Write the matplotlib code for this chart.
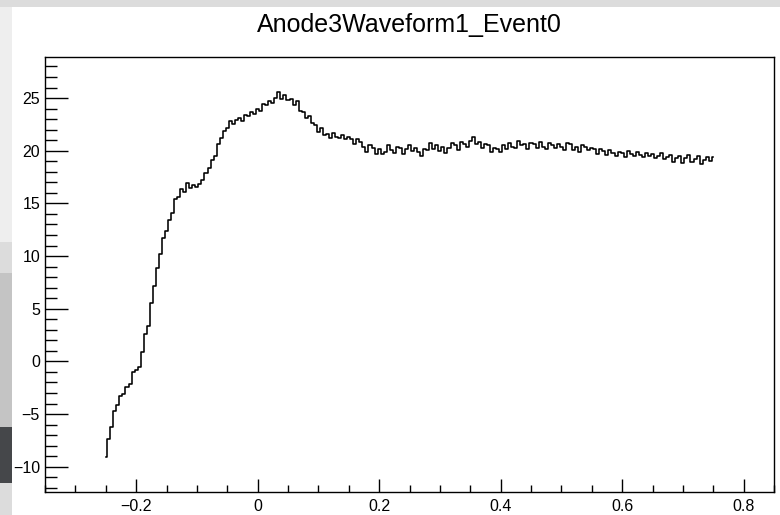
import matplotlib.pyplot as plt
import numpy as np
from matplotlib.patches import Rectangle
from matplotlib.ticker import MultipleLocator

# waveform samples, one every 0.005, from t = -0.25 to 0.75
t_start, t_step = -0.25, 0.005
amplitude = [
    -9.1, -7.4, -6.2, -4.7, -4.1, -3.3, -3.1, -2.4, -2.1, -1.0,
    -0.8, -0.5, 0.9, 2.6, 3.4, 5.5, 7.2, 8.9, 10.2, 11.7,
    12.4, 13.4, 14.1, 15.4, 15.6, 16.4, 16.1, 16.9, 16.5, 16.7,
    16.6, 16.8, 17.2, 17.9, 18.4, 19.1, 19.5, 20.6, 21.2, 21.9,
    22.2, 22.8, 22.5, 22.9, 23.1, 22.8, 23.4, 23.3, 23.7, 23.5,
    24.0, 23.8, 24.4, 24.3, 24.7, 24.5, 25.0, 25.6, 24.9, 25.3,
    24.8, 24.9, 24.3, 24.7, 23.8, 23.7, 23.1, 23.3, 22.6, 22.4,
    21.8, 22.2, 21.5, 21.6, 21.2, 21.7, 21.3, 21.2, 21.5, 21.1,
    21.3, 21.1, 20.6, 21.1, 20.8, 20.4, 19.9, 20.5, 20.3, 19.7,
    20.2, 19.7, 19.9, 20.5, 20.1, 19.8, 20.4, 20.3, 19.7, 20.2,
    20.5, 20.0, 20.3, 19.9, 19.5, 20.2, 20.1, 20.7, 20.2, 20.5,
    20.0, 20.4, 19.8, 20.3, 20.7, 20.5, 20.1, 20.8, 20.6, 20.4,
    20.9, 21.3, 20.6, 20.8, 20.3, 20.6, 20.5, 19.9, 20.3, 20.2,
    19.9, 20.5, 20.2, 20.7, 20.4, 20.3, 20.9, 20.5, 20.6, 20.2,
    20.7, 20.6, 20.3, 20.8, 20.4, 20.2, 20.7, 20.5, 20.3, 20.6,
    20.4, 20.1, 20.7, 20.6, 20.1, 20.4, 19.9, 20.5, 20.4, 20.1,
    20.3, 20.2, 19.7, 20.2, 20.0, 19.6, 20.1, 19.8, 19.5, 19.9,
    19.8, 19.4, 20.0, 19.7, 19.5, 19.9, 19.6, 19.4, 19.8, 19.5,
    19.7, 19.3, 19.5, 19.8, 19.2, 19.4, 19.6, 18.9, 19.3, 19.5,
    18.8, 19.3, 19.6, 18.9, 19.2, 19.5, 18.7, 19.1, 19.4, 19.0,
    19.4,
]
title = 'Anode3Waveform1_Event0'

t = t_start + t_step * np.arange(len(amplitude))

plt.rcParams['font.family'] = ['Liberation Sans', 'DejaVu Sans']

fig = plt.figure(figsize=(7.8, 5.15), dpi=100, facecolor='#dcdcdc')

# window behind the canvas
fig.patches.append(Rectangle((0, 0.53), 12 / 780, 0.47 - 7 / 515, transform=fig.transFigure,
                             facecolor='#eeeeee', edgecolor='none', zorder=0))
fig.patches.append(Rectangle((0, 1 - 427 / 515), 12 / 780, (427 - 273) / 515, transform=fig.transFigure,
                             facecolor='#c4c4c4', edgecolor='none', zorder=0))
fig.patches.append(Rectangle((0, 1 - 483 / 515), 12 / 780, (483 - 427) / 515, transform=fig.transFigure,
                             facecolor='#45474a', edgecolor='none', zorder=0))
# canvas
fig.patches.append(Rectangle((12 / 780, 0), 1, 1 - 7 / 515, transform=fig.transFigure,
                             facecolor='white', edgecolor='none', zorder=0))

ax = fig.add_axes([45 / 780, 1 - 492 / 515, (774 - 45) / 780, (492 - 57) / 515])
ax.set_zorder(2)
ax.plot(t, amplitude, color='black', linewidth=1.15, drawstyle='steps-mid')

ax.set_xlim(-0.35, 0.85)
ax.set_ylim(-12.4, 28.9)

ax.xaxis.set_major_locator(MultipleLocator(0.2))
ax.xaxis.set_minor_locator(MultipleLocator(0.05))
ax.yaxis.set_major_locator(MultipleLocator(5))
ax.yaxis.set_minor_locator(MultipleLocator(1))
ax.xaxis.set_major_formatter(lambda v, p: f'{v:.1f}'.replace('-', '\u2212') if abs(v) > 1e-9 else '0')

ax.tick_params(axis='both', which='both', direction='in', color='black', labelsize=11.5, width=1.0)
ax.tick_params(axis='x', which='major', length=9.4, pad=5)
ax.tick_params(axis='x', which='minor', length=4.7)
ax.tick_params(axis='y', which='major', length=16.6, pad=3.6)
ax.tick_params(axis='y', which='minor', length=8.6)

for s in ax.spines.values():
    s.set_linewidth(1.0)

fig.text(409.5 / 780, 1 - 31.7 / 515, title, ha='center', va='baseline', fontsize=18)

fig.savefig('out.png', dpi=100, facecolor=fig.get_facecolor())
